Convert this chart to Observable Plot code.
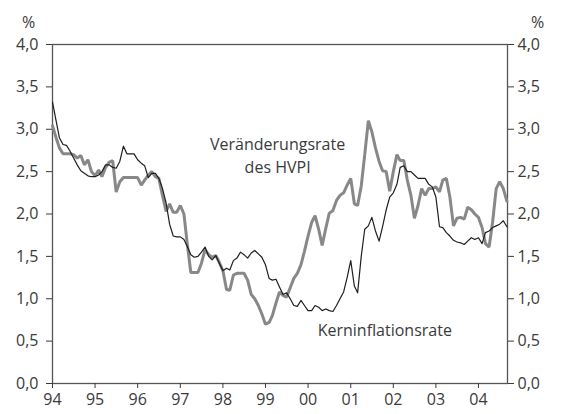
<!DOCTYPE html>
<html>
<head>
<meta charset="utf-8">
<script src="https://cdn.jsdelivr.net/npm/d3@7"></script>
<script src="https://cdn.jsdelivr.net/npm/@observablehq/plot@0.6"></script>
<style>
  html, body { margin: 0; padding: 0; background: #fff; }
  #chart { width: 563px; height: 414px; }
</style>
</head>
<body>
<div id="chart"></div>
<script>
// Monthly values, Jan 1994 – Sep 2004 (annual % change)
const hvpi = [
  3.04,2.90,2.78,2.71,2.71,2.71,2.70,2.66,2.69,2.58,2.64,2.50, // 1994
  2.45,2.52,2.44,2.55,2.61,2.63,2.26,2.38,2.43,2.43,2.43,2.43, // 1995
  2.43,2.34,2.40,2.46,2.50,2.44,2.42,2.22,2.03,2.12,2.02,2.02, // 1996
  2.10,2.00,1.65,1.31,1.31,1.31,1.42,1.58,1.52,1.49,1.51,1.43, // 1997
  1.33,1.11,1.10,1.28,1.30,1.30,1.30,1.22,1.05,1.00,0.92,0.82, // 1998
  0.70,0.72,0.80,0.95,1.08,1.04,1.02,1.13,1.24,1.30,1.40,1.56, // 1999
  1.74,1.90,1.98,1.82,1.63,1.83,2.01,2.04,2.16,2.22,2.25,2.34, // 2000
  2.42,2.12,2.10,2.33,2.70,3.10,2.97,2.78,2.62,2.51,2.50,2.27, // 2001
  2.50,2.70,2.63,2.63,2.40,2.22,1.95,2.10,2.30,2.22,2.30,2.30, // 2002
  2.32,2.26,2.40,2.42,2.20,1.86,1.95,1.96,1.94,2.08,2.05,2.00, // 2003
  1.96,1.84,1.65,1.61,1.90,2.30,2.38,2.30,2.15                 // 2004
];
const kern = [
  3.32,3.10,2.90,2.82,2.81,2.74,2.66,2.58,2.51,2.48,2.45,2.44, // 1994
  2.44,2.46,2.50,2.58,2.58,2.55,2.54,2.62,2.80,2.71,2.71,2.71, // 1995
  2.64,2.60,2.57,2.43,2.48,2.48,2.42,2.30,2.13,1.88,1.74,1.73, // 1996
  1.73,1.70,1.62,1.52,1.49,1.50,1.55,1.61,1.50,1.46,1.51,1.42, // 1997
  1.33,1.36,1.34,1.45,1.48,1.55,1.52,1.48,1.54,1.57,1.53,1.49, // 1998
  1.40,1.24,1.22,1.23,1.14,1.05,1.07,1.00,0.92,0.91,0.98,0.92, // 1999
  0.86,0.86,0.92,0.90,0.86,0.88,0.86,0.85,0.92,1.00,1.08,1.25, // 2000
  1.45,1.15,1.07,1.50,1.82,1.86,1.96,1.80,1.68,1.85,2.05,2.20, // 2001
  2.25,2.35,2.55,2.57,2.50,2.50,2.46,2.42,2.42,2.42,2.35,2.32, // 2002
  2.20,1.85,1.84,1.78,1.74,1.69,1.67,1.66,1.64,1.68,1.72,1.70, // 2003
  1.72,1.65,1.78,1.80,1.84,1.86,1.88,1.92,1.85                 // 2004
];
const months = d3.utcMonths(new Date(Date.UTC(1994,0,1)), new Date(Date.UTC(2004,9,1)));
const yearTicks = d3.utcYears(new Date(Date.UTC(1994,0,1)), new Date(Date.UTC(2004,1,1)));
const yTicks = [0,0.5,1,1.5,2,2.5,3,3.5,4];
const seriesLabels = ["Veränderungsrate\ndes HVPI", "Kerninflationsrate"];
const labelDates = [new Date(Date.UTC(1999,3,15)), new Date(Date.UTC(2001,9,20))];
const labelValues = [2.71, 0.65];

const rowsH = months.map((d,i) => ({date: d, value: hvpi[i]}));
const rowsK = months.map((d,i) => ({date: d, value: kern[i]}));
const notes = seriesLabels.map((t,i) => ({date: labelDates[i], value: labelValues[i], text: t}));

const fmt = v => d3.format(".1f")(v).replace(".", ",");
const ink = "#3a3a3a";
const fs = 16;

const chart = Plot.plot({
  width: 563,
  height: 414,
  marginLeft: 52,
  marginRight: 56,
  marginTop: 44,
  marginBottom: 31,
  style: {fontFamily: "'Open Sans', sans-serif", fontSize: fs + "px", color: ink, background: "#fff"},
  x: {type: "utc", domain: [new Date(Date.UTC(1994,0,1)), new Date(Date.UTC(2004,8,6))]},
  y: {domain: [0, 4]},
  marks: [
    Plot.frame({stroke: "#555", strokeWidth: 1.3}),
    Plot.axisY({anchor: "left", ticks: yTicks, tickFormat: fmt, tickSize: 6, tickPadding: 8, label: null, fontSize: fs}),
    Plot.axisY({anchor: "right", ticks: yTicks, tickFormat: fmt, tickSize: 6, tickPadding: 4, label: null, fontSize: fs}),
    Plot.axisX({ticks: yearTicks, tickFormat: d3.utcFormat("%y"), tickSize: 5, tickPadding: 5, label: null, fontSize: fs}),
    Plot.line(rowsH, {x: "date", y: "value", stroke: "#888", strokeWidth: 3, strokeLinejoin: "miter"}),
    Plot.line(rowsK, {x: "date", y: "value", stroke: "#1e1e1e", strokeWidth: 1.2}),
    Plot.text(notes, {x: "date", y: "value", text: "text", fontSize: fs, lineHeight: 1.5, fill: ink}),
    Plot.text(["%"], {frameAnchor: "top-left", textAnchor: "middle", dx: -24, dy: -28, fontSize: fs, fill: ink}),
    Plot.text(["%"], {frameAnchor: "top-right", textAnchor: "middle", dx: 30, dy: -28, fontSize: fs, fill: ink})
  ]
});
document.getElementById("chart").appendChild(chart);
</script>
</body>
</html>
